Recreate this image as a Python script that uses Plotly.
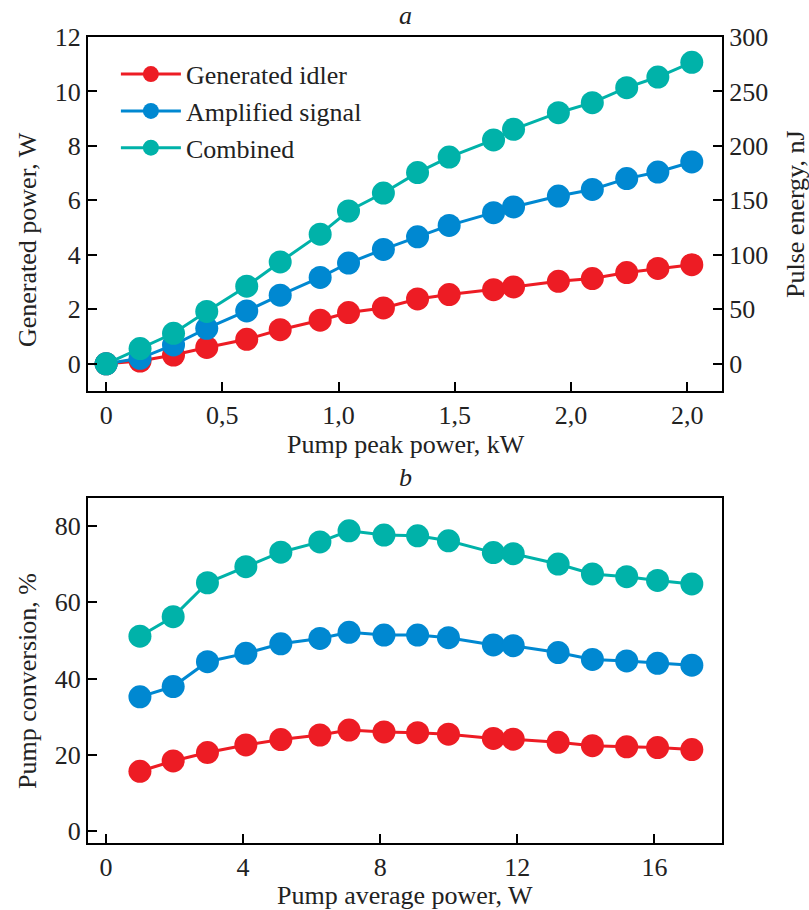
import plotly.graph_objects as go

# ---- Panel a data ----
peak_kw = [0, 0.146, 0.290, 0.433, 0.605, 0.749, 0.921, 1.043, 1.193, 1.340,
           1.476, 1.667, 1.753, 1.946, 2.092, 2.240, 2.374, 2.520]
idler_w = [0, 0.10, 0.32, 0.60, 0.90, 1.25, 1.60, 1.88, 2.05, 2.38,
           2.54, 2.72, 2.82, 3.03, 3.13, 3.35, 3.50, 3.64]
signal_w = [0, 0.20, 0.69, 1.30, 1.94, 2.52, 3.17, 3.70, 4.20, 4.66,
            5.08, 5.55, 5.76, 6.16, 6.40, 6.80, 7.04, 7.41]
combined_w = [0, 0.56, 1.12, 1.92, 2.85, 3.74, 4.76, 5.61, 6.27, 7.02,
              7.59, 8.22, 8.61, 9.22, 9.59, 10.14, 10.53, 11.07]

top_x_tickvals = [0, 0.5, 1.0, 1.5, 2.0, 2.5]
top_x_ticktext = ["0", "0,5", "1,0", "1,5", "2,0", "2,0"]

# ---- Panel b data ----
avg_w = [0.99, 1.96, 2.96, 4.08, 5.10, 6.24, 7.09, 8.11, 9.09, 9.99,
         11.30, 11.88, 13.19, 14.19, 15.19, 16.09, 17.09]
idler_pct = [15.7, 18.4, 20.6, 22.6, 24.0, 25.2, 26.5, 26.0, 25.8, 25.4,
             24.3, 24.1, 23.3, 22.4, 22.1, 21.9, 21.4]
signal_pct = [35.2, 37.9, 44.4, 46.6, 49.1, 50.5, 52.1, 51.4, 51.4, 50.7,
              48.8, 48.6, 46.8, 45.0, 44.6, 44.0, 43.5]
combined_pct = [51.1, 56.2, 65.1, 69.3, 73.1, 75.8, 78.7, 77.6, 77.4, 76.1,
                73.0, 72.7, 70.0, 67.4, 66.7, 65.7, 64.8]

names = ["Generated idler", "Amplified signal", "Combined"]
colors = ["#ED1C24", "#0088D1", "#00B2A9"]

FONT = "Liberation Serif, Times New Roman, serif"
FS = 26

fig = go.Figure()

top_series = [idler_w, signal_w, combined_w]
bot_series = [idler_pct, signal_pct, combined_pct]

for name, col, ys in zip(names, colors, top_series):
    fig.add_trace(go.Scatter(
        x=peak_kw, y=ys, name=name, mode="lines+markers",
        line=dict(color=col, width=3),
        marker=dict(color=col, size=23),
        xaxis="x", yaxis="y", showlegend=True, cliponaxis=False,
    ))

for name, col, ys in zip(names, colors, bot_series):
    fig.add_trace(go.Scatter(
        x=avg_w, y=ys, name=name, mode="lines+markers",
        line=dict(color=col, width=3),
        marker=dict(color=col, size=23),
        xaxis="x2", yaxis="y2", showlegend=False, cliponaxis=False,
    ))

axis_common = dict(
    showline=True, linecolor="black", linewidth=2,
    ticks="inside", ticklen=9, tickwidth=2, tickcolor="black",
    showgrid=False, zeroline=False,
    tickfont=dict(family=FONT, size=FS, color="#222"),
)

top_dom = [0.5608, 1.0]
bot_dom = [0.0, 0.428]

fig.update_layout(
    width=809, height=910,
    margin=dict(l=88, r=87, t=37, b=67),
    paper_bgcolor="white", plot_bgcolor="white",
    font=dict(family=FONT, size=FS, color="#222"),
    xaxis=dict(domain=[0, 1], anchor="y", range=[-0.078, 2.65],
               tickvals=top_x_tickvals, ticktext=top_x_ticktext,
               mirror=True, **axis_common),
    yaxis=dict(domain=top_dom, anchor="x", range=[-1, 12],
               tickvals=[0, 2, 4, 6, 8, 10, 12], **axis_common),
    yaxis3=dict(overlaying="y", side="right", anchor="x", range=[-25, 300],
                tickvals=[0, 50, 100, 150, 200, 250, 300], **axis_common),
    xaxis2=dict(domain=[0, 1], anchor="y2", range=[-0.525, 17.97],
                tickvals=[0, 4, 8, 12, 16], mirror=True, **axis_common),
    yaxis2=dict(domain=bot_dom, anchor="x2", range=[-3.1, 87.3],
                tickvals=[0, 20, 40, 60, 80], mirror=True, **axis_common),
    legend=dict(x=0.044, y=0.983, xanchor="left", yanchor="top",
                bgcolor="rgba(0,0,0,0)", itemwidth=60,
                font=dict(family=FONT, size=FS, color="#222"),
                tracegroupgap=0),
)

# dummy trace so the right axis is drawn
fig.add_trace(go.Scatter(x=[None], y=[None], xaxis="x", yaxis="y3",
                         showlegend=False, hoverinfo="skip"))

annotations = [
    dict(text="<i>a</i>", x=405, y=15, rot=0),
    dict(text="<i>b</i>", x=405, y=477, rot=0),
    dict(text="Pump peak power, kW", x=406, y=444, rot=0),
    dict(text="Pump average power, W", x=405, y=895, rot=0),
    dict(text="Generated power, W", x=27, y=240, rot=-90),
    dict(text="Pulse energy, nJ", x=795, y=214, rot=-90),
    dict(text="Pump conversion, %", x=27, y=681, rot=-90),
]
plot_w = 809 - 88 - 87
plot_h = 910 - 37 - 67
for a in annotations:
    fig.add_annotation(
        text=a["text"], showarrow=False, textangle=a["rot"],
        xref="paper", yref="paper",
        x=(a["x"] - 88) / plot_w, y=1 - (a["y"] - 37) / plot_h,
        xanchor="center", yanchor="middle",
        font=dict(family=FONT, size=FS, color="#222"),
    )

fig.write_html("out.html", config={"displayModeBar": False},
               post_script="document.body.style.margin='0';document.body.style.padding='0';")
